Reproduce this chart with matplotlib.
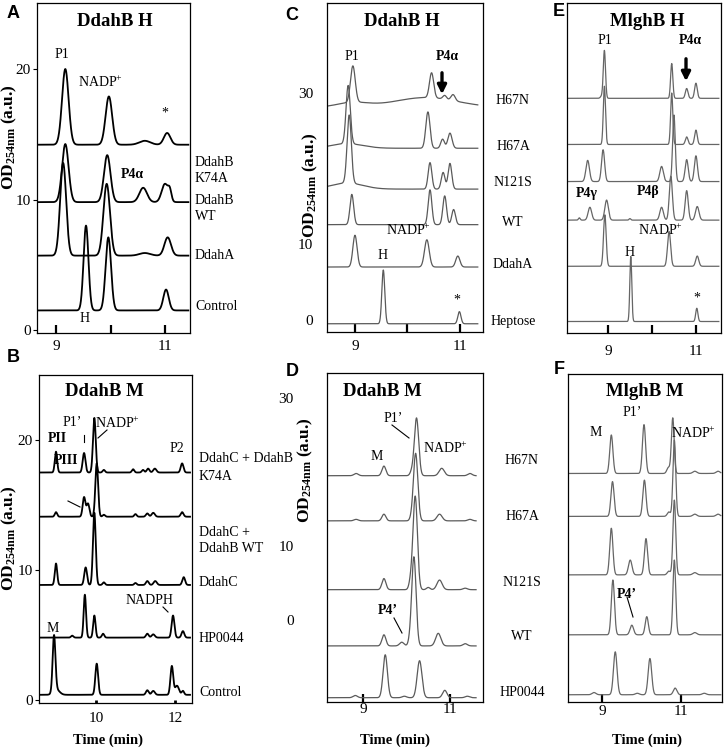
import numpy as np
import matplotlib.pyplot as plt
from matplotlib.lines import Line2D
from matplotlib.patches import FancyArrowPatch

plt.rcParams.update({
    "font.family": "Liberation Serif",
    "mathtext.fontset": "custom",
    "mathtext.rm": "Liberation Serif",
    "mathtext.it": "Liberation Serif:italic",
    "mathtext.bf": "Liberation Serif:bold",
})

W, H = 728, 752

# ---- chromatogram data: baseline offset per trace, peaks as (retention time, height, width)
A_base = [14.2, 9.8, 5.7, 1.5]
A_peaks = [
    [(9.17, 5.8, .06), (9.97, 3.7, .06), (10.63, 0.3, .1), (11.04, 0.9, .06)],
    [(9.17, 4.45, .06), (9.94, 3.6, .06), (10.6, 1.1, .07), (11.0, 1.4, .06), (11.09, 0.7, .03)],
    [(9.13, 7.1, .055), (9.93, 5.5, .06), (10.63, 0.2, .1), (11.05, 1.4, .06)],
    [(9.55, 6.5, .045), (9.96, 5.6, .05), (11.02, 1.6, .05)],
]

B_base = [17.5, 14.1, 8.85, 4.8, 0.4]
B_peaks = [
    [(8.99, 1.6, .03), (9.70, 1.5, .035), (9.96, 4.2, .035), (10.2, 0.2, .03), (10.94, .25, .03),
     (11.19, .2, .03), (11.32, .3, .035), (11.49, .3, .04), (12.18, .7, .035)],
    [(8.99, .35, .03), (9.70, 1.5, .035), (9.80, 1.0, .035), (10.02, 4.1, .035), (10.2, .15, .03),
     (11.0, .2, .03), (11.3, .25, .035), (11.45, .3, .04), (12.18, .35, .035)],
    [(8.99, 1.65, .03), (9.74, 1.35, .035), (9.96, 5.55, .035), (10.2, .2, .03), (11.0, .15, .03),
     (11.3, .3, .035), (11.5, .3, .04), (12.22, .6, .035)],
    [(9.4, .15, .03), (9.72, 3.3, .03), (9.96, 1.7, .03), (10.18, .3, .03), (11.3, .3, .035),
     (11.45, .25, .04), (11.95, 1.7, .035), (12.2, .5, .035)],
    [(8.94, 4.3, .035), (9.0, .4, .08), (10.02, 2.4, .035), (11.3, .35, .035), (11.45, .3, .04),
     (11.92, 2.2, .035), (12.05, .7, .05), (12.2, .3, .03)],
]

C_base = [28.1, 22.7, 17.3, 12.6, 7.0, -0.5]
C_peaks = [
    [(8.96, 4.8, .045), (8.95, .6, .3), (10.35, 1.3, .6), (10.46, 3.3, .04), (10.71, .5, .035), (10.87, .8, .04)],
    [(8.87, 7.7, .04), (8.85, .6, .3), (10.39, 4.8, .04), (10.67, 1.2, .035), (10.81, 2.0, .04)],
    [(8.89, 9.0, .04), (8.85, .8, .3), (10.43, 3.5, .035), (10.68, 2.2, .035), (10.81, 3.4, .035)],
    [(8.94, 4.0, .035), (10.43, 4.6, .035), (10.71, 3.8, .035), (10.88, 2.0, .035)],
    [(9.0, 4.2, .04), (10.37, 3.6, .045), (10.96, 1.45, .04)],
    [(9.54, 7.1, .028), (10.99, 1.6, .03)],
]

D_base = [19.5, 13.4, 4.1, -3.5, -10.5]
D_peaks = [
    [(8.84, .3, .05), (9.48, 1.3, .045), (10.12, .5, .04), (10.23, 7.8, .05), (10.81, 1.0, .06), (11.46, .3, .05)],
    [(8.84, .2, .05), (9.48, .9, .045), (10.12, .4, .04), (10.21, 9.1, .05), (10.76, .9, .06), (11.46, .2, .05)],
    [(9.48, 1.5, .045), (10.1, 1.2, .04), (10.2, 12.6, .05), (10.5, .3, .04), (10.76, 1.3, .06), (11.35, .2, .05)],
    [(9.48, 1.5, .045), (9.89, .5, .05), (10.08, .6, .04), (10.17, 12.0, .05), (10.73, 1.7, .06), (11.35, .3, .05)],
    [(8.82, .3, .05), (9.51, 5.8, .05), (9.95, .2, .05), (10.3, 5.0, .055), (10.88, 1.0, .05), (11.4, .2, .05)],
]

E_base = [29.3, 23.2, 18.3, 13.2, 7.1, -0.2]
E_peaks = [
    [(8.86, .3, .03), (8.92, 6.3, .025), (10.45, 4.6, .025), (10.79, 1.3, .03), (11.0, 2.0, .03)],
    [(8.92, 7.7, .025), (10.45, 6.8, .025), (10.79, 1.0, .03), (11.0, 1.9, .03)],
    [(8.54, 2.8, .04), (8.89, 4.2, .035), (10.22, 2.0, .04), (10.5, 8.8, .03), (10.79, 2.9, .035), (11.0, 3.4, .035)],
    [(8.35, .3, .02), (8.59, 1.7, .04), (8.97, 2.65, .04), (9.5, .2, .02), (10.22, 1.7, .04),
     (10.43, 5.8, .035), (10.79, 3.9, .035), (11.03, 1.8, .04)],
    [(8.93, 6.8, .03), (10.39, 4.6, .035), (11.03, 1.35, .035)],
    [(9.52, 8.6, .022), (11.02, 1.75, .025)],
]

F_base = [19.8, 14.0, 6.1, -2.0, -10.1]
F_peaks = [
    [(9.24, 5.2, .04), (10.07, 6.6, .04), (10.69, .8, .04), (10.8, 7.5, .035), (11.36, .3, .05), (11.95, .3, .05)],
    [(9.27, 4.7, .04), (10.08, 4.9, .04), (10.7, .6, .04), (10.84, 10.3, .035), (11.36, .3, .05), (11.95, .3, .05)],
    [(9.24, 6.3, .04), (9.72, 2.0, .045), (10.12, 4.9, .04), (10.7, .5, .04), (10.84, 10.1, .035), (11.36, .3, .05)],
    [(9.28, 7.4, .04), (9.76, 1.3, .045), (10.14, 2.45, .04), (10.84, 10.1, .035), (11.36, .3, .05)],
    [(8.8, .3, .05), (9.34, 5.8, .045), (9.9, .2, .05), (10.22, 4.9, .045), (10.86, .9, .045), (11.6, .2, .05)],
]

A_names = [("DdahB", 162), ("K74A", 179), ("DdahB", 200), ("WT", 216), ("DdahA", 255), ("Control", 306)]
B_names = [("DdahC + DdahB", 458), ("K74A", 476), ("DdahC +", 532), ("DdahB WT", 549),
           ("DdahC", 582), ("HP0044", 638), ("Control", 692)]
CE_names = [("H67N", 100), ("H67A", 147), ("N121S", 182), ("WT", 222), ("DdahA", 265), ("Heptose", 322)]
DF_names = [("H67N", 460), ("H67A", 517), ("N121S", 582), ("WT", 637), ("HP0044", 693)]

NADP = r"NADP$^{+}$"
OD = r"$\mathbf{OD}_{\mathbf{254nm}}$ (a.u.)"

fig = plt.figure(figsize=(W / 100, H / 100), dpi=100)


def px_axes(left, top, right, bottom):
    return fig.add_axes([left / W, 1 - bottom / H, (right - left) / W, (bottom - top) / H])


def ftext(x, y, s, size=10, ha="center", **kw):
    fig.text(x / W, 1 - y / H, s, ha=ha, va="center", fontsize=size, **kw)


def fline(x0, y0, x1, y1):
    fig.add_artist(Line2D([x0 / W, x1 / W], [1 - y0 / H, 1 - y1 / H], lw=0.8, color="k"))


def farrow(x, y0, y1):
    fig.add_artist(FancyArrowPatch((x / W, 1 - y0 / H), (x / W, 1 - y1 / H), transform=fig.transFigure,
                                   arrowstyle="-|>", mutation_scale=13, lw=2.4, color="k"))


def draw(ax, t0, t1, bases, peaks, color, lw):
    t = np.linspace(t0, t1, 1500)
    for b, pk in zip(bases, peaks):
        y = np.full_like(t, b)
        for rt, h, s in pk:
            y += h * np.exp(-0.5 * ((t - rt) / s) ** 2)
        ax.plot(t, y, color=color, lw=lw, solid_joinstyle="round")


def style(ax, xlim, ylim, xticks, xlabels, xpad, tick_len=5.5, tick_w=1.6):
    ax.set_xlim(xlim)
    ax.set_ylim(ylim)
    ax.set_xticks(xticks)
    ax.set_xticklabels(xlabels)
    ax.tick_params(axis="x", direction="in", length=tick_len, width=tick_w, pad=xpad, labelsize=11)
    for s in ax.spines.values():
        s.set_linewidth(0.9)


# ---------- A
axA = px_axes(37, 3, 190, 333)
draw(axA, 8.68, 11.43, A_base, A_peaks, "black", 1.3)
style(axA, (8.65, 11.46), (-0.23, 25.06), [9, 10, 11], ["9", "", "11"], 5.4)
axA.set_yticks([0, 10, 20])
axA.tick_params(axis="y", direction="out", length=3, width=0.8, pad=1.5, labelsize=11)

# ---------- B
axB = px_axes(39, 375, 192, 703)
draw(axB, 8.59, 12.38, B_base, B_peaks, "black", 1.3)
style(axB, (8.56, 12.43), (-0.23, 25.0), [10, 12], ["10", "12"], 6.8, tick_len=2.5, tick_w=2)
axB.set_yticks([0, 10, 20])
axB.tick_params(axis="y", direction="out", length=3, width=0.8, pad=1.5, labelsize=11)

# ---------- C
axC = px_axes(327, 3, 483, 332)
draw(axC, 8.49, 11.34, C_base, C_peaks, "#5a5a5a", 0.9)
style(axC, (8.467, 11.44), (-1.59, 41.9), [9, 10, 11], ["9", "", "11"], 6)
axC.set_yticks([0, 10, 30])
axC.tick_params(axis="y", length=0, pad=10, labelsize=11)

# ---------- D
axD = px_axes(327, 373, 483, 702)
draw(axD, 8.19, 11.6, D_base, D_peaks, "#5a5a5a", 0.9)
style(axD, (8.17, 11.76), (-11.08, 33.38), [9, 11], ["9", "11"], 0.5)
axD.set_yticks([0, 10, 30])
axD.tick_params(axis="y", length=0, pad=24, labelsize=11)

# ---------- E
axE = px_axes(567, 3, 721, 333)
draw(axE, 8.09, 11.52, E_base, E_peaks, "#666666", 0.9)
style(axE, (8.07, 11.57), (-1.72, 41.9), [9, 10, 11], ["9", "", "11"], 8.3)
axE.set_yticks([])

# ---------- F
axF = px_axes(568, 374, 722, 702)
draw(axF, 8.16, 12.02, F_base, F_peaks, "#666666", 0.9)
style(axF, (8.14, 12.05), (-11.08, 33.24), [9, 11], ["9", "11"], 2.5)
axF.set_yticks([])

# ---------- panel letters and titles
for letter, x, y in [("A", 13, 14), ("B", 13, 357), ("C", 292, 15), ("D", 292, 371), ("E", 559, 12), ("F", 559, 369)]:
    ftext(x, y, letter, size=13, family="Liberation Sans", fontweight="bold")
for title, x, y in [("DdahB H", 115, 22), ("DdahB M", 104, 392), ("DdahB H", 402, 22),
                    ("DdahB M", 382, 392), ("MlghB H", 647, 22), ("MlghB M", 645, 392)]:
    ftext(x, y, title, size=13.5, fontweight="bold")

# y labels and x labels
for x, y in [(9, 137), (9, 538), (310, 185), (305, 470)]:
    ftext(x, y, OD, size=12.5, rotation=90, fontweight="bold")
for x, y in [(108, 740), (395, 740), (647, 740)]:
    ftext(x, y, "Time (min)", size=10.5, fontweight="bold")

# trace names
for s, y in A_names:
    ftext(195, y, s, ha="left")
for s, y in B_names:
    ftext(199, y, s, ha="left")
for s, y in CE_names:
    ftext(513, y, s)
for s, y in DF_names:
    ftext(522, y, s)

# ---------- peak annotations
# A
ftext(62, 55, "P1")
ftext(100, 82, NADP)
ftext(165, 113, "*")
ftext(132, 175, "P4α", fontweight="bold")
ftext(85, 318, "H")
# B
ftext(57, 439, "PII", fontweight="bold")
ftext(72, 423, "P1\u2019")
fline(84, 435, 84, 442)
ftext(117, 423, NADP)
fline(107, 430, 98, 438)
ftext(177, 448, "P2")
ftext(66, 460, "PIII", fontweight="bold")
fline(68, 501, 80, 507)
ftext(150, 600, "NADPH")
fline(163, 607, 168, 612)
ftext(53, 628, "M")
# C
ftext(352, 57, "P1")
ftext(447, 57, "P4α", fontweight="bold")
farrow(442, 70, 97)
ftext(408, 230, NADP)
ftext(383, 255, "H")
ftext(457, 300, "*")
# D
ftext(377, 456, "M")
ftext(393, 418, "P1\u2019")
fline(392, 425, 409, 438)
ftext(445, 448, NADP)
ftext(388, 610, "P4\u2019", fontweight="bold")
fline(394, 618, 402, 633)
# E
ftext(605, 40, "P1")
ftext(690, 40, "P4α", fontweight="bold")
farrow(686, 56, 84)
ftext(587, 193, "P4γ", fontweight="bold")
ftext(648, 192, "P4β", fontweight="bold")
ftext(660, 230, NADP)
ftext(630, 253, "H")
ftext(697, 298, "*")
# F
ftext(596, 432, "M")
ftext(632, 412, "P1\u2019")
ftext(693, 433, NADP)
ftext(627, 594, "P4\u2019", fontweight="bold")
fline(627, 597, 633, 617)

fig.savefig("out.png", dpi=100)
